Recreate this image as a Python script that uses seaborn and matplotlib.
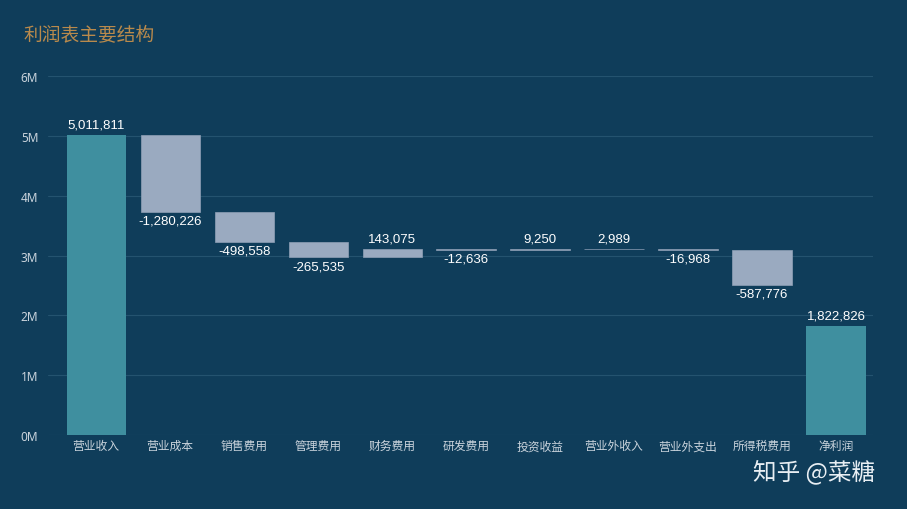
import numpy as np
import pandas as pd
import matplotlib
matplotlib.use("Agg")
import matplotlib.pyplot as plt
import seaborn as sns
from matplotlib.ticker import FuncFormatter

categories = ["营业收入", "营业成本", "销售费用", "管理费用", "财务费用", "研发费用",
              "投资收益", "营业外收入", "营业外支出", "所得税费用", "净利润"]
values = [5011811, -1280226, -498558, -265535, 143075, -12636,
          9250, 2989, -16968, -587776, 1822826]
is_total = [True, False, False, False, False, False,
            False, False, False, False, True]

# waterfall: running start/end for each step
start, end = [], []
run = 0
for v, t in zip(values, is_total):
    if t:
        start.append(0)
        end.append(v)
        run = v
    else:
        start.append(run)
        run = run + v
        end.append(run)

df = pd.DataFrame({"cat": categories, "value": values, "total": is_total,
                   "start": start, "end": end})
df["bottom"] = df[["start", "end"]].min(axis=1)
df["height"] = (df["end"] - df["start"]).abs()

sns.set_style("white")
plt.rcParams["font.family"] = ["Noto Sans CJK SC", "DejaVu Sans"]

bg = "#0f3d5a"
fig = plt.figure(figsize=(9.07, 5.10), dpi=100, facecolor=bg)
ax = fig.add_axes([0.053, 0.145, 0.9095, 0.704])
ax.set_facecolor("none")

tot = df[df["total"]]
chg = df[~df["total"]]
sns.barplot(data=tot, x="cat", y="height", order=categories, color="#3f8f9f",
            saturation=1, width=0.8, errorbar=None, bottom=tot["bottom"].values,
            linewidth=0, zorder=3, ax=ax)
sns.barplot(data=chg, x="cat", y="height", order=categories, color="#9aaac0",
            saturation=1, width=0.8, errorbar=None, bottom=chg["bottom"].values,
            linewidth=0.5, edgecolor="#8fa0b6", zorder=3, ax=ax)

# value labels
for i, row in df.iterrows():
    top = max(row["start"], row["end"])
    low = min(row["start"], row["end"])
    txt = f"{row['value']:,}"
    if row["value"] >= 0:
        ax.annotate(txt, (i, top), xytext=(0, 3), textcoords="offset points",
                    ha="center", va="bottom", color="white", fontsize=9.5,
                    family="Liberation Sans")
    else:
        ax.annotate(txt, (i, low), xytext=(0, -2), textcoords="offset points",
                    ha="center", va="top", color="white", fontsize=9.5,
                    family="Liberation Sans")

ax.set_ylim(0, 6000000)
ax.set_xlim(-0.65, 10.5)
ax.set_yticks(np.arange(0, 6000001, 1000000))
ax.yaxis.set_major_formatter(FuncFormatter(lambda v, p: f"{int(v / 1e6)}M"))
ax.grid(axis="y", color="#24536f", linewidth=0.8, zorder=0)
ax.set_axisbelow(True)
for s in ax.spines.values():
    s.set_visible(False)
ax.tick_params(axis="both", length=0, colors="#c9d3dc")
ax.tick_params(axis="y", labelsize=8.5, pad=7)
ax.tick_params(axis="x", labelsize=8.5, pad=3)
for lab in ax.get_yticklabels():
    lab.set_family("Noto Sans")
for lab in ax.get_xticklabels():
    lab.set_family("Noto Sans CJK SC")
ax.set_xlabel("")
ax.set_ylabel("")

fig.text(0.026, 0.93, "利润表主要结构", color="#b98a4c", fontsize=13.5,
         ha="left", va="center")
fig.text(0.965, 0.075, "知乎 @菜糖", color="#e8eef3", fontsize=17,
         ha="right", va="center")

fig.savefig("out.png", dpi=100, facecolor=bg)
